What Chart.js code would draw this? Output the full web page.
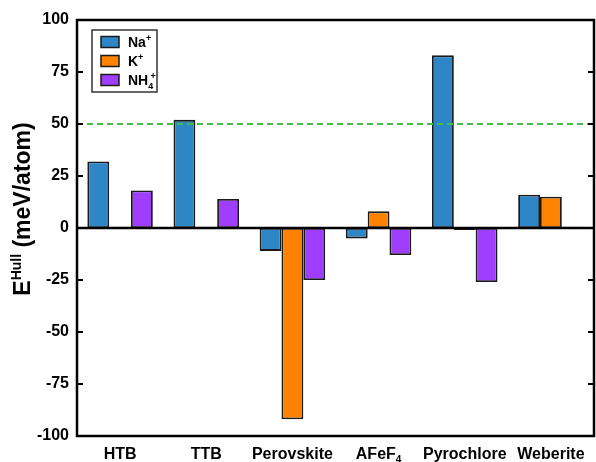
<!DOCTYPE html>
<html><head><meta charset="utf-8">
<script src="https://cdn.jsdelivr.net/npm/chart.js@4/dist/chart.umd.min.js"></script>
<style>html,body{margin:0;padding:0;background:#fff}#wrap{width:596px;height:462px;position:relative}</style>
</head><body><div id="wrap"><canvas id="c"></canvas></div>
<script>
// Energy above hull per framework and A-site cation (meV/atom)
const categories = ['HTB', 'TTB', 'Perovskite', 'AFeF_4', 'Pyrochlore', 'Weberite'];
const seriesNames = ['Na^+', 'K^+', 'NH_4^+'];
const naValues  = [32, 52, -11, -5, 83, 16];
const kValues   = [0.6, 0.6, -92, 8, -1, 15];
const nh4Values = [18, 14, -25, -13, -26, 0.6];
const yTicks = [100, 75, 50, 25, 0, -25, -50, -75, -100];
const stabilityLimit = 50;
const seriesColors = ['#2E86C6', '#FF8300', '#A03EFF'];

const FONT = '"Liberation Sans", Arial, sans-serif';

// split "NH_4^+" style markup into normal / sub / sup runs
function parseRich(s) {
  const out = [];
  let i = 0, cur = '';
  while (i < s.length) {
    const ch = s[i];
    if (ch === '_' || ch === '^') {
      if (cur) { out.push({t: cur, k: 'n'}); cur = ''; }
      let j = i + 1, run = '';
      while (j < s.length && s[j] !== ' ' && s[j] !== '_' && s[j] !== '^') { run += s[j]; j++; }
      out.push({t: run, k: ch === '_' ? 'sub' : 'sup'});
      i = j;
    } else { cur += ch; i++; }
  }
  if (cur) out.push({t: cur, k: 'n'});
  return out;
}
function layoutRich(ctx, s, size) {
  const runs = parseRich(s);
  const small = Math.round(size * 0.62);
  let x = 0, prevStart = 0, prevKind = null, prevW = 0;
  const items = [];
  runs.forEach(r => {
    const fs = r.k === 'n' ? size : small;
    ctx.font = 'bold ' + fs + 'px ' + FONT;
    const w = ctx.measureText(r.t).width;
    let start = x;
    if (r.k === 'sup' && prevKind === 'sub') { start = prevStart + prevW * 0.45; x = Math.max(prevStart + prevW, start + w); }
    else { x += w; }
    const dy = r.k === 'sub' ? size * 0.28 : (r.k === 'sup' ? -size * 0.4 : 0);
    items.push({t: r.t, fs, x: start, dy});
    prevStart = start; prevKind = r.k; prevW = w;
  });
  return {items, width: x};
}
function drawRich(ctx, s, x, y, size, align) {
  const L = layoutRich(ctx, s, size);
  let x0 = x;
  if (align === 'center') x0 = x - L.width / 2;
  else if (align === 'right') x0 = x - L.width;
  ctx.textAlign = 'left';
  ctx.textBaseline = 'alphabetic';
  L.items.forEach(it => {
    ctx.font = 'bold ' + it.fs + 'px ' + FONT;
    ctx.fillText(it.t, x0 + it.x, y + it.dy);
  });
}

const decor = {
  id: 'decor',
  afterDatasetsDraw(chart) {
    const {ctx, chartArea: a, scales: {x, y}} = chart;
    ctx.save();
    // zero baseline
    const y0 = y.getPixelForValue(0);
    ctx.strokeStyle = '#000'; ctx.lineWidth = 2.6;
    ctx.beginPath(); ctx.moveTo(a.left, y0); ctx.lineTo(a.right, y0); ctx.stroke();
    // 50 meV/atom guide line
    const yl = y.getPixelForValue(stabilityLimit);
    ctx.strokeStyle = '#45BC45'; ctx.lineWidth = 2; ctx.setLineDash([6, 4]);
    ctx.beginPath(); ctx.moveTo(a.left, yl); ctx.lineTo(a.right, yl); ctx.stroke();
    ctx.setLineDash([]);
    // inward tick marks on both sides
    ctx.strokeStyle = '#000'; ctx.lineWidth = 2;
    y.ticks.forEach(t => {
      if (t.value === 0 || Math.abs(t.value) === 100) return;
      const py = Math.round(y.getPixelForValue(t.value));
      ctx.beginPath();
      ctx.moveTo(a.left, py); ctx.lineTo(a.left + 6, py);
      ctx.moveTo(a.right - 6, py); ctx.lineTo(a.right, py);
      ctx.stroke();
    });
    // frame
    ctx.lineWidth = 2.5;
    ctx.strokeRect(a.left, a.top, a.right - a.left, a.bottom - a.top);
    // category labels
    ctx.fillStyle = '#000';
    categories.forEach((c, i) => drawRich(ctx, c, x.getPixelForValue(i), a.bottom + 23, 16, 'center'));
    // y axis title
    ctx.save();
    ctx.translate(30, (a.top + a.bottom) / 2 - 19);
    ctx.rotate(-Math.PI / 2);
    drawRich(ctx, 'E^Hull (meV/atom)', 0, 0, 23, 'center');
    ctx.restore();
    // legend
    const lx = 92, ly = 30, lw = 65, lh = 62;
    ctx.fillStyle = '#fff';
    ctx.fillRect(lx, ly, lw, lh);
    ctx.strokeStyle = '#333'; ctx.lineWidth = 1.5;
    ctx.strokeRect(lx, ly, lw, lh);
    seriesNames.forEach((n, i) => {
      const cy = 42 + i * 19;
      ctx.fillStyle = seriesColors[i];
      ctx.fillRect(101, cy - 5.5, 18, 11);
      ctx.strokeStyle = '#1a1a1a'; ctx.lineWidth = 1.5;
      ctx.strokeRect(101, cy - 5.5, 18, 11);
      ctx.fillStyle = '#000';
      drawRich(ctx, n, 128, cy + 5, 14, 'left');
    });
    ctx.restore();
  }
};

const datasets = [naValues, kValues, nh4Values].map((vals, i) => ({
  label: seriesNames[i],
  data: vals,
  backgroundColor: seriesColors[i],
  borderColor: '#1a1a1a',
  borderWidth: 1.8,
  borderSkipped: false,
  categoryPercentage: 0.76,
  barPercentage: 1.0
}));

new Chart(document.getElementById('c'), {
  type: 'bar',
  data: {labels: categories, datasets},
  options: {
    responsive: true,
    maintainAspectRatio: false,
    animation: false,
    devicePixelRatio: 1,
    layout: {padding: {top: 20, right: 2, left: 0, bottom: 0}},
    plugins: {legend: {display: false}, tooltip: {enabled: false}},
    scales: {
      x: {
        grid: {display: false},
        border: {display: false},
        ticks: {display: false},
        afterFit(s) { s.height = 26; }
      },
      y: {
        min: -100, max: 100,
        afterBuildTicks(s) { s.ticks = yTicks.map(v => ({value: v})); },
        grid: {display: false, drawTicks: false},
        border: {display: false},
        ticks: {color: '#000', padding: 8, font: {family: FONT, size: 16, weight: 'bold'}},
        afterFit(s) { s.width = 77; }
      }
    }
  },
  plugins: [decor]
});
</script>
</body></html>
